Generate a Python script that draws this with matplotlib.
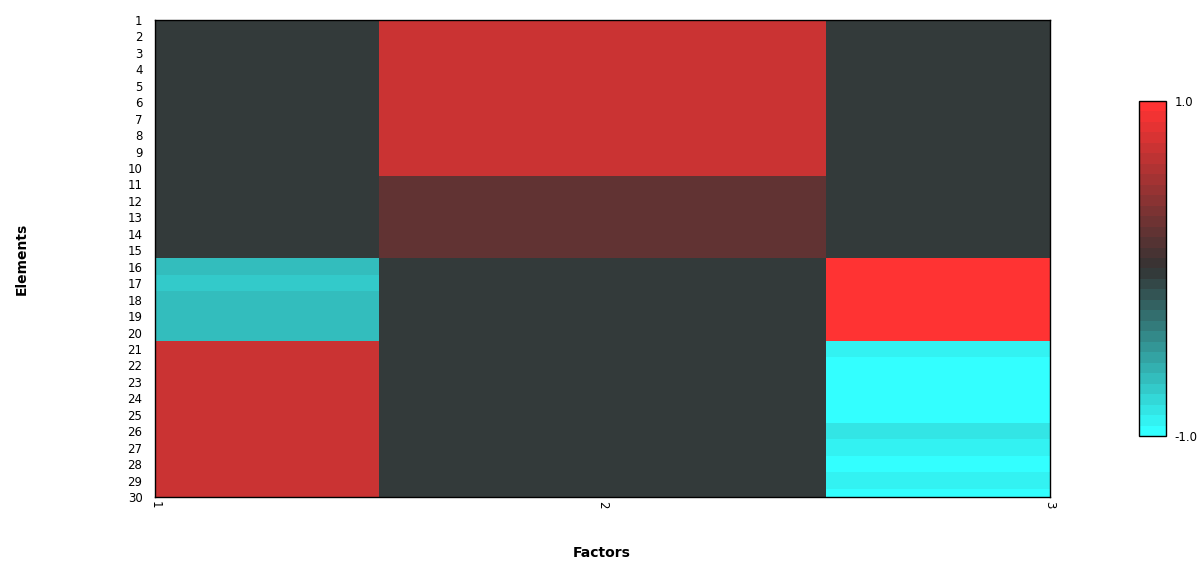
import matplotlib
matplotlib.use("Agg")
import matplotlib.pyplot as plt
from matplotlib.colors import LinearSegmentedColormap
import numpy as np

# values, one list per factor (elements 1..30)
elements = list(range(1, 31))
factors = [1, 2, 3]

factor1 = [-0.03] * 15 + [-0.65, -0.72, -0.66, -0.66, -0.66] + [0.7] * 10
factor2 = [0.7] * 10 + [0.2] * 5 + [-0.03] * 15
factor3 = ([-0.03] * 15 + [1.0] * 5
           + [-0.9, -1.0, -1.0, -1.0, -1.0, -0.83, -0.9, -1.0, -0.9, -1.0])

values = np.array([factor1, factor2, factor3]).T

cbar_ticks = [-1.0, 1.0]

cmap = LinearSegmentedColormap.from_list(
    "cyan_red", [(0.2, 1.0, 1.0), (0.2, 0.2, 0.2), (1.0, 0.2, 0.2)], N=32
)

fig = plt.figure(figsize=(12.04, 5.68), dpi=100)
ax = fig.add_axes([0.1287, 0.125, 0.7434, 0.8398])

x_edges = np.arange(0.5, len(factors) + 1.0)
y_edges = np.arange(0.5, len(elements) + 1.0)
mesh = ax.pcolormesh(x_edges, y_edges, values, cmap=cmap, vmin=-1.0, vmax=1.0)

ax.set_xlim(1, 3)
ax.set_ylim(30, 1)
ax.set_xticks(factors)
ax.set_xticklabels([str(f) for f in factors], rotation=-90, fontsize=8.5)
ax.set_yticks(elements)
ax.set_yticklabels([str(e) for e in elements], fontsize=8.5)
ax.tick_params(axis="y", length=0, pad=9)
ax.tick_params(axis="x", length=0, pad=3)
for sp in ax.spines.values():
    sp.set_linewidth(1.0)
    sp.set_color("black")

fig.text(0.5, 0.026, "Factors", fontsize=10, fontweight="bold",
         ha="center", va="center")
fig.text(0.018, 0.545, "Elements", rotation=90, fontsize=10,
         fontweight="bold", ha="center", va="center")

cax = fig.add_axes([0.946, 0.2324, 0.0224, 0.5898])
cb = fig.colorbar(mesh, cax=cax, ticks=cbar_ticks)
cb.ax.set_yticklabels([f"{t:.1f}" for t in cbar_ticks], fontsize=8.5)
cb.ax.tick_params(length=0, pad=6)
cb.outline.set_linewidth(1.0)

fig.savefig("out.png", dpi=100)
